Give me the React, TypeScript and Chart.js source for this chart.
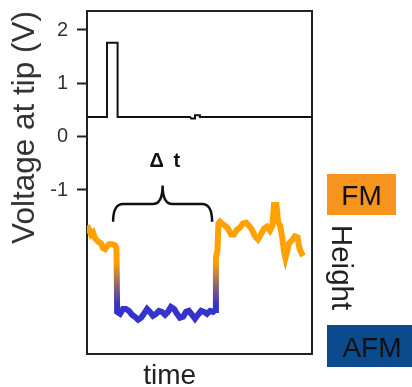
import { useEffect, useRef } from 'react';
import { Chart, registerables } from 'chart.js';

Chart.register(...registerables);

// ---- data ----
const voltageTime = [0, 8.9, 8.9, 13.6, 13.6, 45.8, 46.3, 48.0, 48.0, 50.2, 50.2, 100];
const voltageValue = [0.37, 0.37, 1.76, 1.76, 0.37, 0.37, 0.34, 0.34, 0.4, 0.4, 0.37, 0.37];

const heightTime = [
  0, 0.9, 1.8, 2.7, 3.6, 4.4, 5.3, 6.2, 7.1, 8.0, 8.9, 9.8, 11.1, 12.4, 13.1,
  13.4, 14.7, 16.0, 17.3, 18.7, 20.0, 21.3, 22.7, 24.0, 25.3, 26.7, 28.0, 29.3, 30.7,
  32.0, 33.3, 34.7, 36.0, 37.3, 38.7, 40.0, 41.3, 42.7, 44.0, 45.3, 46.7, 48.0, 49.3,
  50.7, 52.0, 53.3, 54.7, 56.0, 57.1,
  57.3, 58.0, 58.4, 59.1, 60.0, 61.3, 62.7, 64.0, 65.3, 66.7, 68.0, 69.3, 70.7, 72.0,
  73.3, 74.7, 76.0, 77.3, 78.7, 80.0, 81.3, 82.4, 83.1, 84.2, 84.9, 85.8, 86.7, 87.6,
  88.2, 89.1, 89.8, 91.1, 92.4, 93.6, 94.4, 95.1, 96.0,
];
const heightValue = [
  13.1, 12.7, 12.2, 12.4, 11.8, 11.6, 11.4, 11.3, 10.8, 10.7, 11.0, 11.2, 11.2, 11.1, 10.8,
  4.3, 4.1, 4.6, 4.6, 4.4, 4.0, 3.8, 3.5, 3.7, 4.1, 4.6, 4.3, 3.9, 4.1,
  4.4, 4.3, 4.0, 4.3, 4.8, 4.6, 4.1, 3.7, 3.8, 4.3, 4.4, 4.0, 3.6, 4.0,
  4.4, 4.3, 4.1, 4.4, 4.3, 4.5,
  9.8, 10.6, 13.3, 13.5, 13.3, 13.1, 12.8, 12.2, 12.2, 12.7, 12.9, 13.3, 13.4, 13.1,
  12.7, 12.0, 11.7, 12.2, 12.8, 13.0, 12.6, 13.1, 15.2, 15.2, 13.5, 13.1, 12.0, 10.4,
  9.8, 10.6, 11.3, 11.6, 12.0, 11.9, 10.8, 10.4, 10.0,
];

const voltageTicks = [2, 1, 0, -1];
const stateLabels = ['FM', 'AFM'];
const intervalLabel = 'Δ t';
const timeLabel = 'time';
const heightLabel = 'Height';

const ORANGE = '#FFA100';
const BLUE = '#3434CC';
const FONT = "'Liberation Sans', Arial, Helvetica, sans-serif";

const annotationPlugin = {
  id: 'annotations',
  beforeDatasetsDraw(chart: any) {
    const { ctx, chartArea: a } = chart;
    ctx.save();
    ctx.strokeStyle = '#222';
    ctx.lineWidth = 2;
    ctx.strokeRect(a.left, a.top, a.right - a.left, a.bottom - a.top);
    ctx.restore();
  },
  afterDatasetsDraw(chart: any) {
    const { ctx, chartArea: a, scales } = chart;
    const xs = scales.x;
    const hs = scales.h;
    ctx.save();

    // curly brace over the AFM interval
    const x0 = xs.getPixelForValue(11.6);
    const x1 = xs.getPixelForValue(55.6);
    const xm = (x0 + x1) / 2;
    const yEnd = hs.getPixelForValue(13.5);
    const yBar = hs.getPixelForValue(15.3);
    const yTip = hs.getPixelForValue(17.2);
    const r = 10;
    ctx.strokeStyle = '#111';
    ctx.lineWidth = 2.5;
    ctx.beginPath();
    ctx.moveTo(x0, yEnd);
    ctx.quadraticCurveTo(x0, yBar, x0 + r, yBar);
    ctx.lineTo(xm - r, yBar);
    ctx.quadraticCurveTo(xm, yBar, xm, yTip);
    ctx.quadraticCurveTo(xm, yBar, xm + r, yBar);
    ctx.lineTo(x1 - r, yBar);
    ctx.quadraticCurveTo(x1, yBar, x1, yEnd);
    ctx.stroke();

    // Δ t label
    ctx.fillStyle = '#111';
    ctx.font = `bold 20px ${FONT}`;
    ctx.textAlign = 'center';
    ctx.textBaseline = 'alphabetic';
    try { (ctx as any).letterSpacing = '2px'; } catch (e) {}
    ctx.fillText(intervalLabel, xs.getPixelForValue(35.0), hs.getPixelForValue(19.1));
    try { (ctx as any).letterSpacing = '0px'; } catch (e) {}

    // time label
    ctx.fillStyle = '#222';
    ctx.font = `28px ${FONT}`;
    ctx.fillText(timeLabel, xs.getPixelForValue(36.7), a.bottom + 30);

    // FM / AFM boxes
    ctx.fillStyle = '#F7941D';
    ctx.fillRect(a.right + 15, a.top + 163, 69, 41);
    ctx.fillStyle = '#0C4A8E';
    ctx.fillRect(a.right + 15, a.top + 314, 86, 42);
    ctx.fillStyle = '#111';
    ctx.font = `28px ${FONT}`;
    ctx.fillText(stateLabels[0], a.right + 15 + 34.5, a.top + 163 + 31);
    ctx.fillText(stateLabels[1], a.right + 15 + 45, a.top + 314 + 32);

    // Height label (rotated)
    ctx.save();
    ctx.translate(a.right + 28, a.top + 256.5);
    ctx.rotate(Math.PI / 2);
    ctx.fillStyle = '#222';
    ctx.font = `29.5px ${FONT}`;
    ctx.textAlign = 'center';
    ctx.textBaseline = 'middle';
    ctx.fillText(heightLabel, 0, 0);
    ctx.restore();

    ctx.restore();
  },
};

export default function App() {
  const canvasRef = useRef<HTMLCanvasElement | null>(null);

  useEffect(() => {
    const canvas = canvasRef.current;
    if (!canvas) return;
    Chart.defaults.font.family = FONT;

    const heightGradient = (context: any) => {
      const chart = context.chart;
      const { chartArea, scales } = chart;
      if (!chartArea || !scales.h) return ORANGE;
      const g = chart.ctx.createLinearGradient(
        0,
        scales.h.getPixelForValue(9.4),
        0,
        scales.h.getPixelForValue(5.0)
      );
      g.addColorStop(0, ORANGE);
      g.addColorStop(1, BLUE);
      return g;
    };

    const chart = new Chart(canvas, {
      type: 'line',
      data: {
        datasets: [
          {
            label: 'Voltage at tip',
            data: voltageTime.map((t, i) => ({ x: t, y: voltageValue[i] })),
            yAxisID: 'y',
            borderColor: '#111',
            borderWidth: 2,
            pointRadius: 0,
            tension: 0,
          },
          {
            label: 'Height',
            data: heightTime.map((t, i) => ({ x: t, y: heightValue[i] })),
            yAxisID: 'h',
            borderColor: heightGradient,
            borderWidth: 6,
            borderJoinStyle: 'miter',
            pointRadius: 0,
            tension: 0,
          },
        ],
      },
      options: {
        animation: false,
        responsive: true,
        maintainAspectRatio: false,
        layout: { padding: { top: 11, right: 100, bottom: 33, left: 0 } },
        plugins: {
          legend: { display: false },
          tooltip: { enabled: false },
        },
        scales: {
          x: { type: 'linear', min: 0, max: 100, display: false },
          y: {
            type: 'linear',
            position: 'left',
            min: -4.075,
            max: 2.356,
            afterBuildTicks: (s: any) => {
              s.ticks = voltageTicks.map((v) => ({ value: v }));
            },
            afterFit: (s: any) => {
              s.width = 87;
              s.paddingTop = 0;
              s.paddingBottom = 0;
            },
            ticks: { font: { size: 20 }, color: '#333', padding: 9 },
            grid: {
              drawOnChartArea: false,
              drawTicks: true,
              tickLength: 10,
              tickColor: '#222',
              tickWidth: 2,
            },
            border: { display: false },
            title: {
              display: true,
              text: 'Voltage at tip (V)',
              align: 'end',
              color: '#333',
              font: { size: 31.5 },
              padding: { top: 6, bottom: 0 },
            },
          },
          h: { type: 'linear', min: 0, max: 35, display: false },
        },
      } as any,
      plugins: [annotationPlugin],
    });

    return () => chart.destroy();
  }, []);

  return (
    <div style={{ position: 'fixed', left: 0, top: 0, width: 412, height: 387, background: '#fff' }}>
      <canvas ref={canvasRef} />
    </div>
  );
}
